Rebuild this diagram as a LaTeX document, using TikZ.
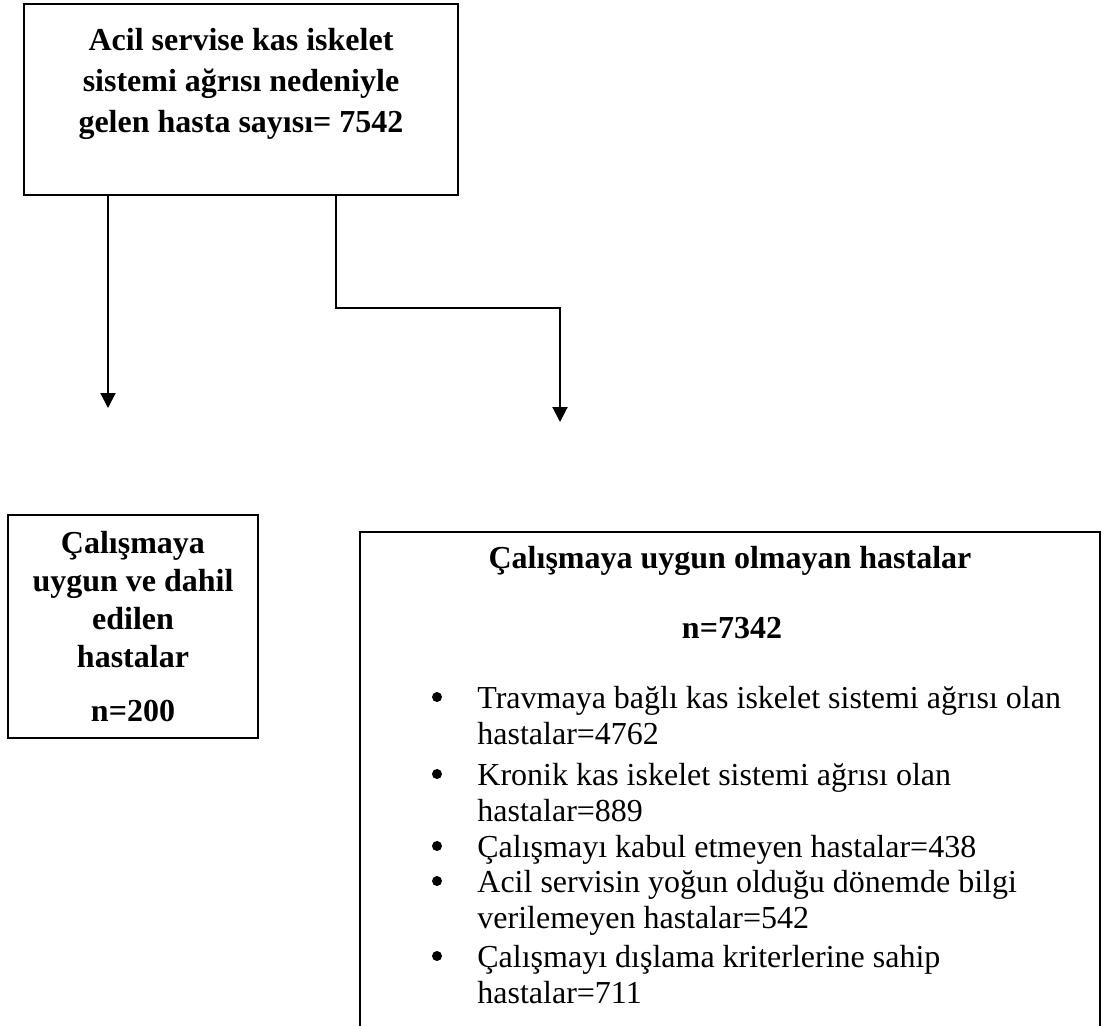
\documentclass[tikz,border=0pt]{standalone}
\usepackage{fontspec}
\setmainfont{Liberation Serif}
\usetikzlibrary{arrows.meta,positioning}

\begin{document}
\begin{tikzpicture}[x=0.5pt,y=-0.5pt,
  box/.style={draw,line width=1pt,inner sep=0pt},
  head/.style={font=\bfseries\fontsize{16pt}{20.5pt}\selectfont,align=center,anchor=base},
  item/.style={font=\fontsize{16pt}{18pt}\selectfont,align=left,anchor=base west,inner sep=0pt},
  dot/.style={circle,fill,inner sep=0pt,minimum size=5pt},
  flow/.style={line width=1pt,-{Triangle[width=7.5pt,length=7.5pt]}}]
\clip (0,0) rectangle (1109,1025);
% boxes
\node[box,minimum width=217pt,minimum height=95.5pt] (start) at (241,99.5) {};
\node[box,minimum width=125pt,minimum height=111.5pt] (incl) at (133,626.5) {};
\node[box,minimum width=370pt,minimum height=260pt,anchor=north] (excl) at (730,531) {};
% texts (anchor base = last line)
\node[head] (startText) at (241,132) {Acil servise kas iskelet\\sistemi ağrısı nedeniyle\\gelen hasta sayısı= 7542};
\node[head,font=\bfseries\fontsize{16pt}{19pt}\selectfont] (inclText) at (133,721) {Çalışmaya\\uygun ve dahil\\edilen\\hastalar\\[8pt]n=200};
\node[head] (exclText) at (730,568) {Çalışmaya uygun olmayan hastalar};
\node[head] (exclNum) at (732,638) {n=7342};
\foreach \y/\last/\txt [count=\i] in {708/744/{Travmaya bağlı kas iskelet sistemi ağrısı olan\\hastalar=4762},
    785/821/{Kronik kas iskelet sistemi ağrısı olan\\hastalar=889},
    857/857/{Çalışmayı kabul etmeyen hastalar=438},
    892/928/{Acil servisin yoğun olduğu dönemde bilgi\\verilemeyen hastalar=542},
    967/1003/{Çalışmayı dışlama kriterlerine sahip\\hastalar=711}}
{
  \node[dot] (bul\i) at (437,\y-11) {};
  \node[item] (item\i) at (477,\last) {\txt};
}
% connectors
\coordinate (inclTip) at (108,408);
\coordinate (bend) at (336,308);
\coordinate (exclTip) at (560,422);
\draw[flow] (start.south -| inclTip) -- (inclTip);
\draw[flow] (start.south -| bend) -- (bend) -| (exclTip);
\end{tikzpicture}
\end{document}
